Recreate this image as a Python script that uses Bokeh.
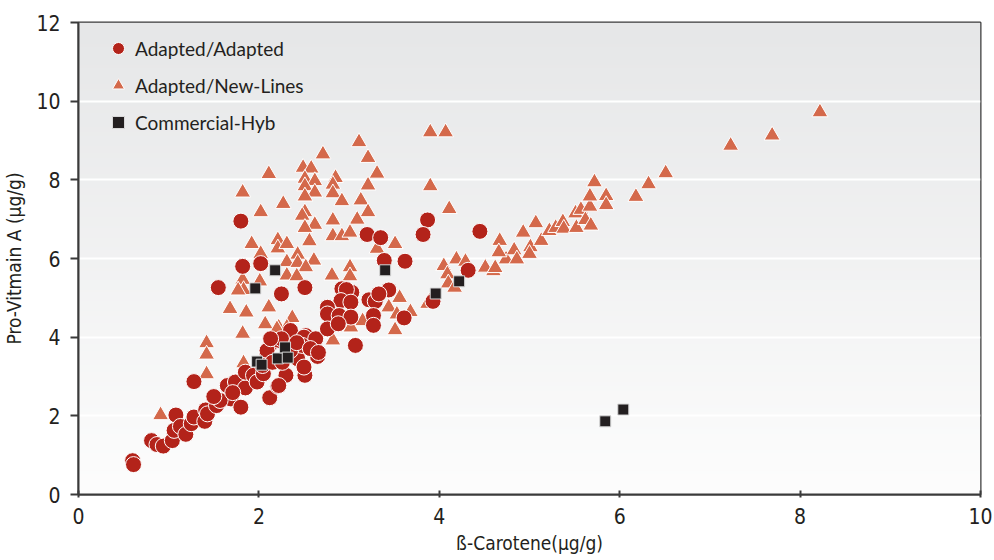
import numpy as np
from bokeh.plotting import figure
from bokeh.models import Legend, LegendItem, Range1d, FixedTicker
from bokeh.embed import file_html
from bokeh.resources import INLINE

# ---- data ----
aa_x = [0.60, 0.61, 0.81, 0.87, 0.94, 1.04, 1.08, 1.06, 1.13, 1.19, 1.25, 1.28, 1.40, 1.41, 1.43,
        1.53, 1.28, 1.65, 1.69, 1.74, 1.80, 1.85, 1.85, 1.94, 1.98, 2.05, 2.09, 2.12, 2.13, 2.22,
        2.21, 2.30, 2.35, 2.43, 2.48, 2.51, 2.52, 2.09, 2.25, 2.50, 2.63, 2.48, 2.65, 2.50, 2.02,
        2.25, 2.51, 1.55, 1.80, 1.82, 2.92, 3.03, 2.97, 2.91, 3.02, 2.76, 2.76, 2.89, 3.02, 2.76,
        2.88, 3.22, 3.29, 3.44, 3.33, 3.27, 3.27, 3.61, 3.07, 2.13, 2.22, 3.20, 3.35, 3.87, 3.82,
        3.39, 3.62, 3.93, 4.32, 4.45, 1.57, 1.71, 2.04, 2.15, 2.35, 2.42, 2.57, 2.66, 2.26, 1.50]
aa_y = [0.86, 0.76, 1.37, 1.27, 1.23, 1.37, 2.02, 1.63, 1.73, 1.53, 1.80, 1.97, 1.86, 2.15, 2.05,
        2.26, 2.87, 2.77, 2.43, 2.86, 2.22, 2.71, 3.11, 3.03, 2.86, 3.07, 3.58, 2.46, 3.83, 3.92,
        2.75, 3.03, 4.17, 3.45, 3.83, 3.03, 4.04, 3.66, 3.96, 4.00, 3.96, 3.79, 3.51, 3.24, 5.87,
        5.10, 5.26, 5.26, 6.95, 5.80, 5.23, 5.14, 5.21, 4.93, 4.89, 4.76, 4.59, 4.55, 4.51, 4.21,
        4.34, 4.95, 4.91, 5.20, 5.10, 4.55, 4.30, 4.49, 3.79, 3.96, 2.77, 6.61, 6.53, 6.98, 6.61,
        5.95, 5.93, 4.91, 5.70, 6.69, 2.39, 2.59, 3.28, 3.36, 3.66, 3.86, 3.71, 3.61, 3.36, 2.49]

an_x = [3.11, 2.71, 3.21, 2.49, 2.58, 3.31, 2.11, 2.51, 2.62, 2.85, 2.82, 2.51, 3.21, 1.82, 2.62,
        2.82, 2.51, 2.92, 2.27, 3.13, 2.02, 2.51, 2.48, 3.21, 3.09, 2.82, 2.62, 2.51, 2.82, 2.92,
        3.01, 3.31, 3.51, 2.56, 2.21, 2.21, 2.31, 1.92, 2.02, 2.43, 2.31, 2.43, 2.61, 2.52, 3.01,
        2.81, 3.01, 2.31, 2.42, 1.82, 1.83, 1.77, 2.01, 1.68, 1.86, 2.11, 2.37, 2.07, 3.15, 3.44,
        3.56, 3.68, 3.53, 4.05, 4.09, 4.10, 3.89, 3.02, 2.22, 2.31, 3.51, 3.90, 4.07, 3.90, 4.11,
        1.42, 1.42, 1.42, 0.91, 1.82, 2.20, 2.82, 1.83, 4.19, 4.29, 4.17, 3.87, 4.51, 4.60, 4.62,
        4.74, 4.67, 4.66, 4.83, 4.86, 4.93, 5.01, 5.07, 5.13, 5.00, 5.22, 5.29, 5.37, 5.38, 5.52,
        5.51, 5.57, 5.62, 5.68, 5.67, 5.67, 5.72, 5.85, 5.85, 6.18, 6.32, 6.51, 7.23, 7.69, 8.22]
an_y = [8.96, 8.65, 8.56, 8.31, 8.29, 8.16, 8.15, 8.03, 7.97, 8.05, 7.88, 7.84, 7.86, 7.68, 7.68,
        7.66, 7.58, 7.46, 7.39, 7.48, 7.18, 7.18, 7.09, 7.18, 6.99, 6.97, 6.86, 6.78, 6.57, 6.57,
        6.66, 6.25, 6.37, 6.44, 6.47, 6.26, 6.37, 6.37, 6.12, 6.10, 5.91, 5.89, 5.95, 5.78, 5.78,
        5.57, 5.55, 5.57, 5.55, 5.46, 5.20, 5.19, 5.42, 4.72, 4.63, 4.76, 4.49, 4.33, 4.41, 4.76,
        5.00, 4.64, 4.58, 5.81, 5.60, 5.37, 4.91, 4.25, 4.25, 4.25, 4.18, 9.21, 9.21, 7.84, 7.26,
        3.85, 3.56, 3.06, 2.02, 4.09, 4.21, 3.92, 3.34, 5.98, 5.92, 5.26, 4.85, 5.77, 5.68, 5.76,
        5.98, 6.45, 6.16, 6.21, 5.98, 6.66, 6.29, 6.90, 6.45, 6.12, 6.70, 6.78, 6.93, 6.76, 6.78,
        7.15, 7.24, 6.98, 6.84, 7.32, 7.58, 7.94, 7.59, 7.36, 7.57, 7.89, 8.17, 8.87, 9.13, 9.72]

ch_x = [1.96, 2.18, 3.40, 1.98, 2.03, 2.21, 2.29, 2.32, 3.96, 4.22, 5.84, 6.04]
ch_y = [5.24, 5.70, 5.70, 3.38, 3.30, 3.46, 3.74, 3.48, 5.11, 5.42, 1.86, 2.16]

x_ticks = [0, 2, 4, 6, 8, 10]
y_ticks = [0, 2, 4, 6, 8, 10, 12]
series_names = ["Adapted/Adapted", "Adapted/New-Lines", "Commercial-Hyb"]
x_label = "ß-Carotene(µg/g)"
y_label = "Pro-Vitmain A (µg/g)"

# ---- figure ----
AXIS_FONT = "'Liberation Sans Narrow', 'DejaVu Sans Condensed', 'Roboto', sans-serif"
p = figure(width=994, height=560, output_backend="svg", toolbar_location=None,
           x_range=Range1d(0, 10), y_range=Range1d(0, 12),
           min_border_left=78, min_border_right=14, min_border_top=22, min_border_bottom=66,
           background_fill_color="white", border_fill_color="white")

# background gradient inside the plot frame
n = 200
top = np.array([230, 231, 232], dtype=float)
bot = np.array([253, 253, 253], dtype=float)
img = np.empty((n, 1), dtype=np.uint32)
view = img.view(dtype=np.uint8).reshape((n, 1, 4))
for i in range(n):
    t = i / (n - 1)
    c = bot + (top - bot) * t
    view[i, 0, 0] = int(c[0]); view[i, 0, 1] = int(c[1]); view[i, 0, 2] = int(c[2]); view[i, 0, 3] = 255
p.image_rgba(image=[img], x=0, y=0, dw=10, dh=12, level="image")

p.xgrid.visible = False
p.ygrid.ticker = FixedTicker(ticks=y_ticks)
p.ygrid.grid_line_color = "white"
p.ygrid.grid_line_width = 2

p.outline_line_color = "#3a3a3a"
p.outline_line_width = 2

p.xaxis.ticker = FixedTicker(ticks=x_ticks)
p.yaxis.ticker = FixedTicker(ticks=y_ticks)
for ax in (p.xaxis[0], p.yaxis[0]):
    ax.axis_line_color = "#3a3a3a"
    ax.axis_line_width = 2
    ax.major_tick_line_color = "#3a3a3a"
    ax.major_tick_line_width = 2
    ax.minor_tick_line_color = None
    ax.major_label_text_font = AXIS_FONT
    ax.major_label_text_font_size = "21px"
    ax.major_label_text_color = "#231f20"
    ax.axis_label_text_font = AXIS_FONT
    ax.axis_label_text_font_size = "19px"
    ax.axis_label_text_font_style = "normal"
    ax.axis_label_text_color = "#231f20"

p.xaxis.major_tick_in = 4
p.xaxis.major_tick_out = 3
p.xaxis.major_label_standoff = 10
p.xaxis.axis_label = x_label
p.xaxis.axis_label_standoff = 5

p.yaxis.major_tick_in = 0
p.yaxis.major_tick_out = 8
p.yaxis.major_label_standoff = 10
p.yaxis.axis_label = y_label
p.yaxis.axis_label_standoff = 8

r_tri = p.scatter(an_x, an_y, marker="triangle", size=16, fill_color="#d4694b",
                  line_color="white", line_width=1)
r_cir = p.scatter(aa_x, aa_y, marker="circle", size=16, fill_color="#b3231a",
                  line_color="white", line_width=1)
r_sq = p.scatter(ch_x, ch_y, marker="square", size=11, fill_color="#231f20",
                 line_color="#d8d8d8", line_width=1)

legend = Legend(items=[LegendItem(label=series_names[0], renderers=[r_cir]),
                       LegendItem(label=series_names[1], renderers=[r_tri]),
                       LegendItem(label=series_names[2], renderers=[r_sq])],
                location=(25, 357))
legend.background_fill_alpha = 0
legend.border_line_alpha = 0
legend.glyph_width = 30
legend.glyph_height = 30
legend.label_height = 30
legend.spacing = 7
legend.padding = 0
legend.margin = 0
legend.label_standoff = 2
legend.label_text_font = "Lato"
legend.label_text_font_size = "19px"
legend.label_text_color = "#231f20"
p.add_layout(legend)

open("out.html", "w").write(file_html(p, INLINE))
